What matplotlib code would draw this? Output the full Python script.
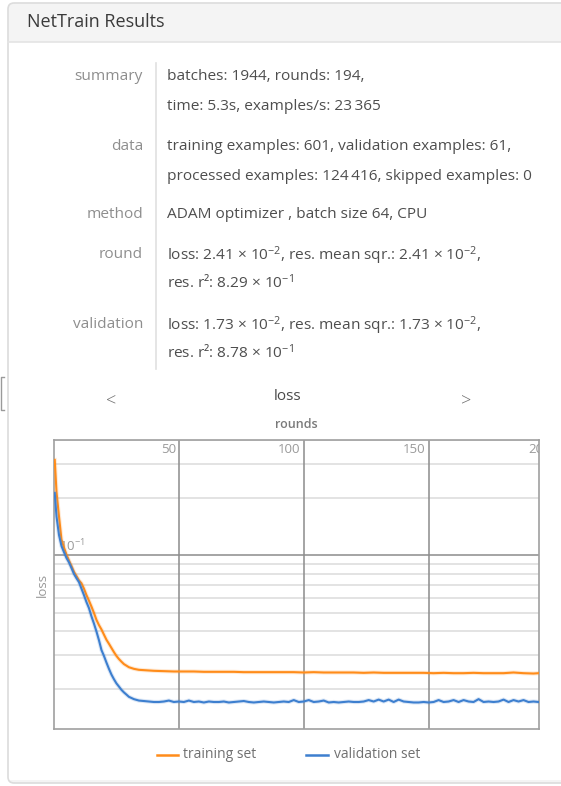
import numpy as np
import matplotlib
matplotlib.use("Agg")
import matplotlib.pyplot as plt
import matplotlib.patches as mpatches
import matplotlib.patheffects as pe
from matplotlib.transforms import blended_transform_factory, offset_copy

# ---------------------------------------------------------------------------
# Data
# ---------------------------------------------------------------------------
summary_labels = ["summary", "data", "method", "round", "validation"]
summary_lines = [
    ["batches: 1944, rounds: 194,", "time: 5.3s, examples/s: 23\u2009365"],
    ["training examples: 601, validation examples: 61,",
     "processed examples: 124\u2009416, skipped examples: 0"],
    ["ADAM optimizer , batch size 64, CPU"],
    ["loss: 2.41 \u00d7 $10^{-2}$, res. mean sqr.: 2.41 \u00d7 $10^{-2}$,",
     "res. r\u00b2: 8.29 \u00d7 $10^{-1}$"],
    ["loss: 1.73 \u00d7 $10^{-2}$, res. mean sqr.: 1.73 \u00d7 $10^{-2}$,",
     "res. r\u00b2: 8.78 \u00d7 $10^{-1}$"],
]

x_ticks = [50, 100, 150, 200]
y_major = [0.1]
y_minor = [0.02, 0.03, 0.04, 0.05, 0.06, 0.07, 0.08, 0.09, 0.2, 0.3, 0.4]

train_rounds = [0.3, 1, 2, 3, 4, 5, 6, 7, 8, 9, 10, 11, 12, 13, 14, 15, 16, 17,
                18, 19, 20, 21, 22, 23, 24, 25, 26, 27, 28, 29, 30, 32, 34, 36,
                38, 40, 44, 48, 52, 56, 60, 64, 68, 72, 76, 80, 84, 88, 92, 96,
                100, 104, 108, 112, 116, 120, 124, 128, 132, 136, 140, 144, 148,
                152, 156, 160, 164, 168, 172, 176, 180, 184, 188, 192, 194]
train_loss = [0.316, 0.215, 0.160, 0.121, 0.110, 0.101, 0.094, 0.088, 0.082,
              0.078, 0.074, 0.0715, 0.067, 0.062, 0.058, 0.054, 0.050, 0.046,
              0.0432, 0.041, 0.0385, 0.0362, 0.0345, 0.0328, 0.0312, 0.0298,
              0.0287, 0.0278, 0.0270, 0.0265, 0.0260, 0.0255, 0.0252, 0.0251,
              0.0250, 0.0249, 0.0248, 0.0247, 0.0247, 0.0247, 0.0246, 0.0246,
              0.0246, 0.0246, 0.0245, 0.0245, 0.0245, 0.0245, 0.0245, 0.0245,
              0.0244, 0.0245, 0.0244, 0.0244, 0.0244, 0.0244, 0.0243, 0.0244,
              0.0243, 0.0243, 0.0243, 0.0243, 0.0243, 0.0242, 0.0243, 0.0242,
              0.0242, 0.0243, 0.0242, 0.0242, 0.0242, 0.0244, 0.0242, 0.0241,
              0.0242]

valid_rounds = [0.3, 1, 2, 3, 4, 5, 6, 7, 8, 9, 10, 11, 12, 13, 14, 15, 16, 17,
                18, 19, 20, 21, 22, 23, 24, 25, 26, 27, 28, 29, 30, 32, 34, 36,
                38, 40, 42, 44, 46, 48, 50, 52, 54, 56, 58, 60, 62, 64, 66, 68,
                70, 72, 74, 76, 78, 80, 82, 84, 86, 88, 90, 92, 94, 96, 98, 100,
                102, 104, 106, 108, 110, 112, 114, 116, 118, 120, 122, 124, 126,
                128, 130, 132, 134, 136, 138, 140, 142, 144, 146, 148, 150, 152,
                154, 156, 158, 160, 162, 164, 166, 168, 170, 172, 174, 176, 178,
                180, 182, 184, 186, 188, 190, 192, 194]
valid_loss = [0.212, 0.160, 0.128, 0.112, 0.104, 0.097, 0.092, 0.086, 0.080,
              0.076, 0.0725, 0.067, 0.062, 0.057, 0.053, 0.048, 0.044, 0.040,
              0.036, 0.032, 0.0298, 0.0275, 0.0255, 0.0238, 0.0225, 0.0214,
              0.0206, 0.0198, 0.0192, 0.0187, 0.0182, 0.0177, 0.0174, 0.0173,
              0.0172, 0.0171, 0.0171, 0.0172, 0.0174, 0.0171, 0.0172, 0.0171,
              0.0174, 0.0171, 0.0172, 0.0170, 0.0172, 0.0171, 0.0171, 0.0172,
              0.0170, 0.0171, 0.0172, 0.0173, 0.0171, 0.0170, 0.0171, 0.0172,
              0.0171, 0.0170, 0.0171, 0.0172, 0.0171, 0.0175, 0.0171, 0.0172,
              0.0175, 0.0171, 0.0172, 0.0174, 0.0170, 0.0171, 0.0170, 0.0171,
              0.0172, 0.0171, 0.0171, 0.0172, 0.0175, 0.0172, 0.0176, 0.0172,
              0.0176, 0.0171, 0.0176, 0.0172, 0.0171, 0.0170, 0.0170, 0.0171,
              0.0170, 0.0171, 0.0175, 0.0171, 0.0172, 0.0175, 0.0171, 0.0175,
              0.0172, 0.0171, 0.0177, 0.0171, 0.0172, 0.0171, 0.0172, 0.0176,
              0.0171, 0.0175, 0.0172, 0.0175, 0.0171, 0.0172, 0.0171]

ORANGE = "#ff8c1a"
BLUE = "#3d7fcf"
FONT = "Open Sans"

W, H = 561, 786


def main():
    plt.rcParams["font.family"] = [FONT, "DejaVu Sans"]
    plt.rcParams["mathtext.fontset"] = "custom"
    plt.rcParams["mathtext.rm"] = FONT
    plt.rcParams["mathtext.it"] = FONT + ":italic"
    plt.rcParams["mathtext.bf"] = FONT + ":bold"

    fig = plt.figure(figsize=(W / 100, H / 100), dpi=100)

    # overlay axes in pixel coordinates for the panel and text
    ov = fig.add_axes([0, 0, 1, 1], zorder=0)
    ov.set_xlim(0, W)
    ov.set_ylim(H, 0)
    ov.axis("off")

    # -------------------------------------------------------------------------
    # Panel frame + header
    # -------------------------------------------------------------------------
    ov.add_patch(mpatches.FancyBboxPatch((8, 3), 620, 780, boxstyle="round,pad=0,rounding_size=6",
                                         fc="#f4f4f4", ec="none"))
    ov.add_patch(mpatches.Rectangle((8, 42), 620, 738, fc="white", ec="none"))
    ov.plot([8, 561], [42, 42], color="#e4e4e4", lw=1.2)
    ov.add_patch(mpatches.FancyBboxPatch((8, 3), 620, 780, boxstyle="round,pad=0,rounding_size=6",
                                         fc="none", ec="#dcdcdc", lw=1.2))
    ov.text(27, 22, "NetTrain Results", fontsize=13, color="#3a3a3a", va="center")

    # summary table
    row_y = [75, 145, 213, 252, 322]
    for label, lines, y in zip(summary_labels, summary_lines, row_y):
        ov.text(143, y, label, fontsize=11.1, color="#8e8e8e", ha="right", va="center_baseline")
        for i, line in enumerate(lines):
            ov.text(167, y + 29 * i, line, fontsize=11.1, color="#4e4e4e", va="center_baseline")
    ov.plot([156, 156], [63, 369], color="#e0e0e0", lw=1.2)

    # cell bracket at left
    ov.plot([4, 1.5, 1.5, 4], [377, 377, 410, 410], color="#9a9a9a", lw=1)

    # chart header
    ov.text(288, 397, "loss", fontsize=11, color="#4a4a4a", ha="center", va="center")
    ov.text(111, 401, "<", fontsize=13, color="#707070", ha="center", va="center",
            fontweight="light")
    ov.text(466, 401, ">", fontsize=13, color="#707070", ha="center", va="center",
            fontweight="light")
    ov.text(296, 425, "rounds", fontsize=9, color="#7a7a7a", ha="center", va="center",
            fontweight="semibold")
    ov.text(42, 585, "loss", fontsize=9.5, color="#999999", ha="center", va="center",
            rotation=90)

    # legend
    ov.plot([157, 178], [755, 755], color=ORANGE, lw=1.8)
    ov.text(183, 755, "training set", fontsize=10, color="#707070", va="center")
    ov.plot([306, 328], [755, 755], color=BLUE, lw=1.8)
    ov.text(334, 755, "validation set", fontsize=10, color="#707070", va="center")

    # -------------------------------------------------------------------------
    # Loss plot
    # -------------------------------------------------------------------------
    left, right, top, bottom = 54, 538.5, 440, 729
    ax = fig.add_axes([left / W, 1 - bottom / H, (right - left) / W, (bottom - top) / H], zorder=2)
    ax.set_facecolor("white")
    ax.set_yscale("log")
    ax.set_xlim(0, 194)
    ax.set_ylim(0.01235, 0.402)
    ax.set_xticks([])
    ax.set_yticks([])
    ax.minorticks_off()
    for s in ax.spines.values():
        s.set_color("#a0a0a0")
        s.set_linewidth(1.2)

    for yv in y_minor:
        ax.axhline(yv, color="#e3e3e3", lw=1.4, zorder=1)
    for yv in y_major:
        ax.axhline(yv, color="#8c8c8c", lw=1.1, zorder=2)
    for xv in x_ticks:
        ax.axvline(xv, color="#8c8c8c", lw=1.1, zorder=2)

    # x tick labels inside the top, left of each gridline
    trans = blended_transform_factory(ax.transData, ax.transAxes)
    trans = offset_copy(trans, fig=fig, x=-3, y=-3, units="dots")
    for xv in x_ticks:
        ax.text(xv, 1, str(xv), transform=trans, ha="right", va="top", fontsize=9.5,
                color="#9a9a9a", clip_on=True, zorder=3)
    # y tick label sitting on the 10^-1 line
    trans_y = offset_copy(blended_transform_factory(ax.transAxes, ax.transData),
                          fig=fig, x=5, y=1, units="dots")
    ax.text(0, y_major[0], "$10^{-1}$", transform=trans_y, ha="left", va="bottom",
            fontsize=9.5, color="#9a9a9a", zorder=3)

    halo = lambda c: [pe.Stroke(linewidth=3.0, foreground=c, alpha=0.18), pe.Normal()]
    ax.plot(train_rounds, train_loss, color=ORANGE, lw=1.5, zorder=4, path_effects=halo(ORANGE))
    ax.plot(valid_rounds, valid_loss, color=BLUE, lw=1.5, zorder=5, path_effects=halo(BLUE))

    fig.savefig("out.png", dpi=100)
    plt.close(fig)


if __name__ == "__main__":
    main()
